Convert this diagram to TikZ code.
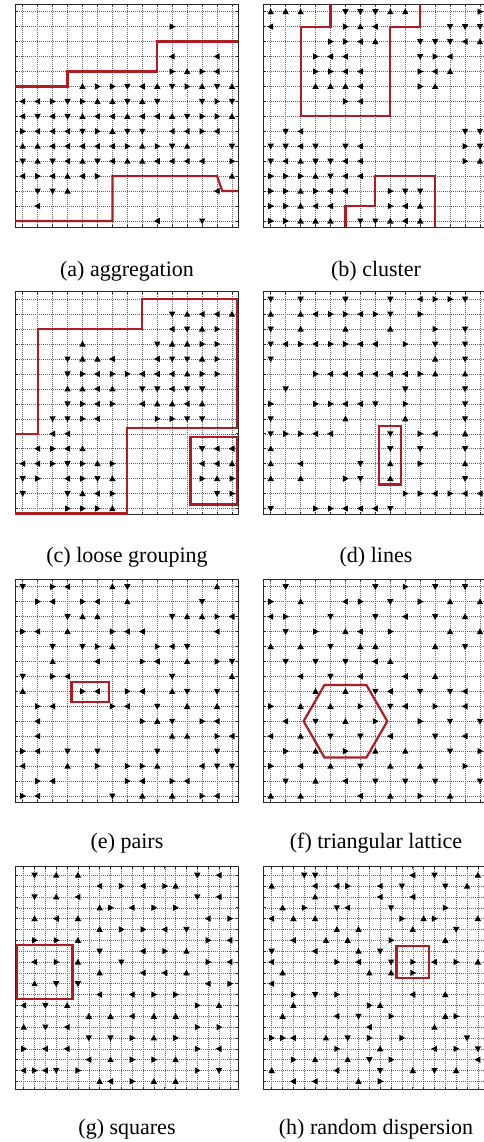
\documentclass[tikz,border=0pt]{standalone}
\usepackage{fontspec}
\setmainfont{Liberation Serif}
\definecolor{redline}{RGB}{175,28,36}
\tikzset{
  gridline/.style={black!60, line width=0.45pt, dash pattern=on 0.7pt off 1.3pt},
  frame/.style={black!85, line width=0.8pt},
  tickmark/.style={black!85, line width=0.6pt},
  region/.style={redline, line width=2.2pt, line join=miter},
  caption/.style={font=\fontsize{22}{26}\selectfont, anchor=base, inner sep=0pt},
}
\newcommand\tsym[1]{%
  \if#1U\fill[shift={(\cx,\rowi)}] (0pt,3.3pt) -- (-3.2pt,-2.5pt) -- (3.2pt,-2.5pt) -- cycle;\fi
  \if#1D\fill[shift={(\cx,\rowi)}] (0pt,-3.3pt) -- (-3.2pt,2.5pt) -- (3.2pt,2.5pt) -- cycle;\fi
  \if#1L\fill[shift={(\cx,\rowi)}] (-3.3pt,0pt) -- (2.5pt,3.2pt) -- (2.5pt,-3.2pt) -- cycle;\fi
  \if#1R\fill[shift={(\cx,\rowi)}] (3.3pt,0pt) -- (-2.5pt,3.2pt) -- (-2.5pt,-3.2pt) -- cycle;\fi
}
\def\tparse#1{\ifx#1\relax\let\tnext\relax\else\tsym{#1}\edef\cx{\the\numexpr\cx+1\relax}\let\tnext\tparse\fi\tnext}
\newcommand\trow[2]{\def\rowi{#1}\def\cx{0}\tparse#2\relax}
\newcommand\panelbase[3]{%
  \pgfmathtruncatemacro\nlast{#1-1}%
  \foreach \i in {0,...,\nlast}{%
    \pgfmathsetmacro\p{#2+#3*\i}%
    \draw[gridline] (\p,0) -- (\p,223);
    \draw[gridline] (0,\p) -- (223,\p);
    \draw[tickmark] (\p,0) -- (\p,2.5);
    \draw[tickmark] (\p,223) -- (\p,220.5);
    \draw[tickmark] (0,\p) -- (2.5,\p);
    \draw[tickmark] (223,\p) -- (220.5,\p);
  }%
  \draw[frame] (0,0) rectangle (223,223);}
\begin{document}
\begin{tikzpicture}[x=1pt,y=-1pt]
\useasboundingbox (0,0) rectangle (484,1142);
\fill[white] (0,0) rectangle (484,1142);
\clip (0,0) rectangle (484,1142);

% (a) aggregation
\begin{scope}[shift={(15,4)}]
\panelbase{15}{7.7}{14.95}
\begin{scope}[shift={(7.7,7.7)}, x=14.95pt, y=-14.95pt]
\trow{0}{...............}
\trow{1}{..........R....}
\trow{2}{...............}
\trow{3}{..........L..L.}
\trow{4}{..........RURL.}
\trow{5}{....URRDLUDRUDU}
\trow{6}{LLRDRUUDUD..DRD}
\trow{7}{LDLDULLULLUDRRU}
\trow{8}{RLLLDRUDD.LLRL.}
\trow{9}{UULLLLLRURDU..D}
\trow{10}{DUDLUDLUULLLL.R}
\trow{11}{LRLULR........U}
\trow{12}{.DDU.........L.}
\trow{13}{.L.............}
\trow{14}{.........L..D..}
\draw[region] (-0.515,5) -- (3,5) -- (3,4) -- (9,4) -- (9,2) -- (14.4,2);
\draw[region] (-0.515,14) -- (6,14) -- (6,11) -- (13,11) -- (13.35,12) -- (14.4,12);
\end{scope}
\end{scope}
\node[caption] (capa) at (127,276) {(a) aggregation};

% (b) cluster
\begin{scope}[shift={(263,4)}]
\panelbase{15}{7.7}{14.95}
\begin{scope}[shift={(7.7,7.7)}, x=14.95pt, y=-14.95pt]
\trow{0}{UUU..DDDUU....R}
\trow{1}{L....RUL....DDD}
\trow{2}{....RRLU..DDDLU}
\trow{3}{...RLL....DRL..}
\trow{4}{...RRLL...RLU..}
\trow{5}{...UUUL...RU...}
\trow{6}{.....RL........}
\trow{7}{...............}
\trow{8}{.DL..........DD}
\trow{9}{DDLD.DL......RD}
\trow{10}{DLUDDLL......RU}
\trow{11}{RRRUDLL........}
\trow{12}{RRURLL..RDD....}
\trow{13}{RRULL...RLU....}
\trow{14}{RRUUU.DDULU....}
\draw[region] (4,-0.515) -- (4,1) -- (2,1) -- (2,7) -- (8,7) -- (8,1) -- (10,1) -- (10,-0.515);
\draw[region] (5,14.4) -- (5,13) -- (7,13) -- (7,11) -- (11,11) -- (11,14.4);
\end{scope}
\end{scope}
\node[caption] (capb) at (376,276) {(b) cluster};

% (c) loose grouping
\begin{scope}[shift={(15,291.5)}]
\panelbase{15}{7.7}{14.95}
\begin{scope}[shift={(7.7,7.7)}, x=14.95pt, y=-14.95pt]
\trow{0}{...............}
\trow{1}{..........DULLU}
\trow{2}{..........LDUR.}
\trow{3}{....U....DUURR.}
\trow{4}{...DUUL..LDDUR.}
\trow{5}{...DRLRRLLLURR.}
\trow{6}{...UULU.DDLDD..}
\trow{7}{...DRLR.LUULU..}
\trow{8}{..DDRL...RRDD..}
\trow{9}{..LL...........}
\trow{10}{.LRLU.......DLL}
\trow{11}{LLRDRUR.....LLU}
\trow{12}{DR.LRDU.....RUR}
\trow{13}{D..DULR......DR}
\trow{14}{...RRRU........}
\draw[region] (-0.515,9) -- (1,9) -- (1,2) -- (8,2) -- (8,0) -- (14.33,0) -- (14.33,8.6) -- (7,8.6) -- (7,14.33) -- (-0.515,14.33);
\draw[region] (11.22,9.24) rectangle (14.33,13.73);
\end{scope}
\end{scope}
\node[caption] (capc) at (127,562) {(c) loose grouping};

% (d) lines
\begin{scope}[shift={(263,291.5)}]
\panelbase{15}{7.7}{14.95}
\begin{scope}[shift={(7.7,7.7)}, x=14.95pt, y=-14.95pt]
\trow{0}{D.D..D..D.LRRD.}
\trow{1}{U.ULRRLRD.R....}
\trow{2}{D.U..U..U..R.D.}
\trow{3}{DLRLRRLL.R.D.D.}
\trow{4}{D..........U.D.}
\trow{5}{...RLLLLLLRU.U.}
\trow{6}{.D.......D...D.}
\trow{7}{R..RRLLD.R...D.}
\trow{8}{D....U...U...D.}
\trow{9}{DRRLL...D.RL.U.}
\trow{10}{U.......D.D..D.}
\trow{11}{U.L...D.U.R..U.}
\trow{12}{U.U..RD.U....D.}
\trow{13}{.........RRLRLL}
\trow{14}{D..RRLLLD......}
\draw[region] (7.25,8.5) rectangle (8.7,12.4);
\end{scope}
\end{scope}
\node[caption] (capd) at (376,562) {(d) lines};

% (e) pairs
\begin{scope}[shift={(15,579)}]
\panelbase{15}{7.7}{14.95}
\begin{scope}[shift={(7.7,7.7)}, x=14.95pt, y=-14.95pt]
\trow{0}{D.RL..UD.....U.}
\trow{1}{.RL.RL.U....D..}
\trow{2}{...DUU....DUURL}
\trow{3}{RL.U..RLL....L.}
\trow{4}{..D.DRU..RLD...}
\trow{5}{..U..L..RL.U.RD}
\trow{6}{D.RL......D...U}
\trow{7}{U...RL.RL.UD.D.}
\trow{8}{.RL...RL.D.U.U.}
\trow{9}{.L......RUD.RL.}
\trow{10}{.L........UU.RL}
\trow{11}{RL.D.D...D...D.}
\trow{12}{L..U.R.RRU..LDD}
\trow{13}{.RL....RL.RL...}
\trow{14}{RL....D.U.U.RL.}
\draw[region] (3.27,6.35) rectangle (5.76,7.69);
\end{scope}
\end{scope}
\node[caption] (cape) at (127,848) {(e) pairs};

% (f) triangular lattice
\begin{scope}[shift={(263,579)}]
\panelbase{15}{7.7}{14.95}
\begin{scope}[shift={(7.7,7.7)}, x=14.95pt, y=-14.95pt]
\trow{0}{.D.....D.R.D.D.}
\trow{1}{R.U..LR.D.R.U.U}
\trow{2}{LR..D..D.L.D.U.}
\trow{3}{.D.R.UL.R...U.U}
\trow{4}{U.U.D.UU...U.D.}
\trow{5}{.D.D.D.LU......}
\trow{6}{..L.D.L..L.U...}
\trow{7}{...U.U.DL.D.DL.}
\trow{8}{R.U.U.R.DL.R.L.}
\trow{9}{.L.D.U.R..R.D.D}
\trow{10}{L.U.D.D.L..D.L.}
\trow{11}{.R.U.R.U.U..D.R}
\trow{12}{R.L.U.D.U.U..R.}
\trow{13}{.D.U.L.D.D.D..D}
\trow{14}{U.U...L.U.R.U..}
\draw[region] (7.8,9) -- (6.4,11.43) -- (3.6,11.43) -- (2.2,9) -- (3.6,6.57) -- (6.4,6.57) -- cycle;
\end{scope}
\end{scope}
\node[caption] (capf) at (376,848) {(f) triangular lattice};

% (g) squares
\begin{scope}[shift={(15,866.5)}]
\panelbase{20}{8.7}{10.85}
\begin{scope}[shift={(8.7,8.7)}, x=10.85pt, y=-10.85pt]
\trow{0}{.D.U.U..........D.L.}
\trow{1}{.......L.R.L.RU.....}
\trow{2}{.D.U.L..........D.L.}
\trow{3}{.......UR.L.R.R.....}
\trow{4}{.U.L.U...........L.R}
\trow{5}{.......U.R.R.L.D....}
\trow{6}{.R.R.U...........R.L}
\trow{7}{.......D...L.R.U....}
\trow{8}{.L.R.U...D.......R.L}
\trow{9}{.......U...L.L.U....}
\trow{10}{.U.D.D...........L.R}
\trow{11}{.......L..L.R.R.....}
\trow{12}{L.D.U...........R.U.}
\trow{13}{......U.U.L.U.U.....}
\trow{14}{U.D.L...........R.R.}
\trow{15}{......D.D.R.U.R.....}
\trow{16}{R.L.L...........R.L.}
\trow{17}{......L.U.R.R.U.....}
\trow{18}{LRLD.R..........R.D.}
\trow{19}{.......UL.R.U.U.....}
\draw[region] (-0.6,6.45) rectangle (4.5,11.43);
\end{scope}
\end{scope}
\node[caption] (capg) at (127,1134) {(g) squares};

% (h) random dispersion
\begin{scope}[shift={(263,866.5)}]
\panelbase{20}{8.7}{10.85}
\begin{scope}[shift={(8.7,8.7)}, x=10.85pt, y=-10.85pt]
\trow{0}{...DD........L.D...U}
\trow{1}{U...L.LR..L.D...D.U.}
\trow{2}{....U.....L..L......}
\trow{3}{.U.R..DL...D....R...}
\trow{4}{L.U.U.......R.UR...U}
\trow{5}{......U.U....U...D..}
\trow{6}{..L..U.U...R....U...}
\trow{7}{D...L...U.D.........}
\trow{8}{L.....R.L..D.R.L.R.U}
\trow{9}{.U.......U.U.R......}
\trow{10}{L...................}
\trow{11}{..R.D.R......L..U...}
\trow{12}{..U......RU.........}
\trow{13}{.U....L.D..R....UR..}
\trow{14}{.........L.....U....}
\trow{15}{RRL..U.D.R..R.....D.}
\trow{16}{......R...U....L.R.D}
\trow{17}{..R.U..U.D.R.......L}
\trow{18}{U.....L...D..U.D.U..}
\trow{19}{..L.L...U.R.........}
\draw[region] (11.5,6.5) rectangle (14.5,9.5);
\end{scope}
\end{scope}
\node[caption] (caph) at (376,1134) {(h) random dispersion};
\end{tikzpicture}
\end{document}
